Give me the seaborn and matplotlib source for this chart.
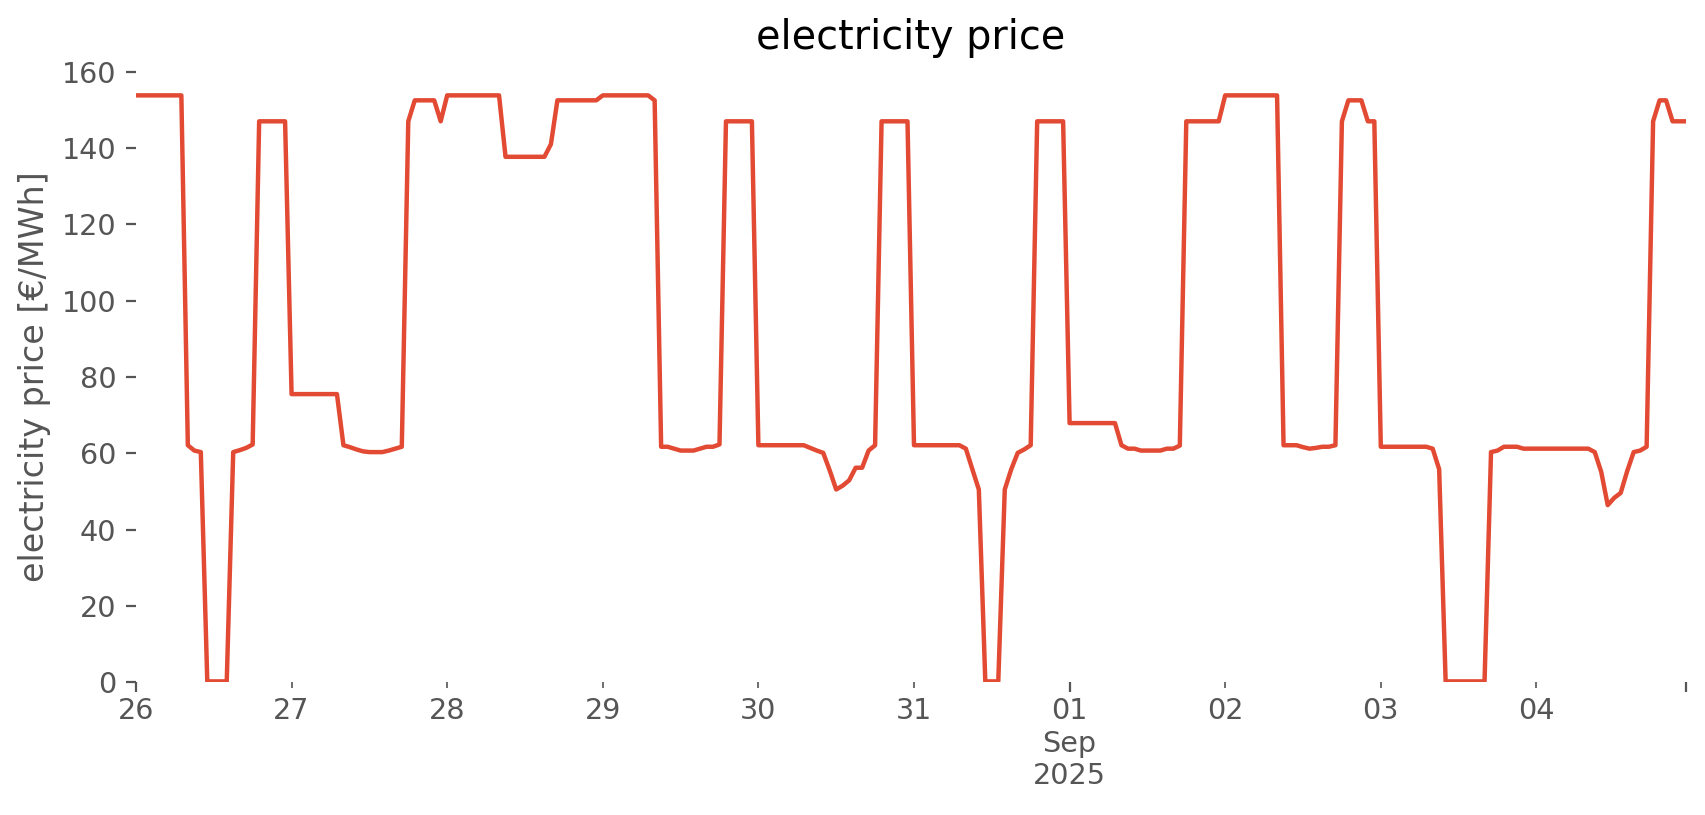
import numpy as np
import pandas as pd
import seaborn as sns
import matplotlib.pyplot as plt
import matplotlib.dates as mdates

# hourly prices in EUR/MWh, one list per day (26 Aug - 04 Sep 2025)
aug26 = [153.8, 153.8, 153.8, 153.8, 153.8, 153.8, 153.8, 153.8, 62.1, 60.7, 60.3, 0.2,
         0.2, 0.2, 0.2, 60.3, 60.8, 61.4, 62.3, 147.0, 147.0, 147.0, 147.0, 147.0]
aug27 = [75.5, 75.5, 75.5, 75.5, 75.5, 75.5, 75.5, 75.5, 62.1, 61.6, 61.0, 60.5,
         60.3, 60.3, 60.3, 60.7, 61.2, 61.7, 147.0, 152.5, 152.5, 152.5, 152.5, 147.0]
aug28 = [153.8, 153.8, 153.8, 153.8, 153.8, 153.8, 153.8, 153.8, 153.8, 137.7, 137.7, 137.7,
         137.7, 137.7, 137.7, 137.7, 141.0, 152.5, 152.5, 152.5, 152.5, 152.5, 152.5, 152.5]
aug29 = [153.8, 153.8, 153.8, 153.8, 153.8, 153.8, 153.8, 153.8, 152.5, 61.7, 61.7, 61.2,
         60.7, 60.7, 60.7, 61.2, 61.7, 61.7, 62.3, 147.0, 147.0, 147.0, 147.0, 147.0]
aug30 = [62.1, 62.1, 62.1, 62.1, 62.1, 62.1, 62.1, 62.1, 61.4, 60.7, 60.1, 55.5,
         50.5, 51.5, 52.9, 56.2, 56.2, 60.7, 62.1, 147.0, 147.0, 147.0, 147.0, 147.0]
aug31 = [62.1, 62.1, 62.1, 62.1, 62.1, 62.1, 62.1, 62.1, 61.2, 55.8, 50.5, 0.2,
         0.2, 0.2, 50.5, 55.8, 60.1, 61.0, 62.1, 147.0, 147.0, 147.0, 147.0, 147.0]
sep01 = [67.9, 67.9, 67.9, 67.9, 67.9, 67.9, 67.9, 67.9, 62.1, 61.2, 61.2, 60.7,
         60.7, 60.7, 60.7, 61.2, 61.2, 62.0, 147.0, 147.0, 147.0, 147.0, 147.0, 147.0]
sep02 = [153.8, 153.8, 153.8, 153.8, 153.8, 153.8, 153.8, 153.8, 153.8, 62.1, 62.1, 62.1,
         61.6, 61.2, 61.4, 61.7, 61.7, 62.1, 147.0, 152.5, 152.5, 152.5, 147.0, 147.0]
sep03 = [61.7, 61.7, 61.7, 61.7, 61.7, 61.7, 61.7, 61.7, 61.2, 55.8, 0.2, 0.2,
         0.2, 0.2, 0.2, 0.2, 0.2, 60.3, 60.7, 61.7, 61.7, 61.7, 61.2, 61.2]
sep04 = [61.2, 61.2, 61.2, 61.2, 61.2, 61.2, 61.2, 61.2, 61.2, 60.3, 55.1, 46.4,
         48.3, 49.6, 55.3, 60.3, 60.7, 61.7, 147.0, 152.5, 152.5, 147.0, 147.0, 147.0]

days = [aug26, aug27, aug28, aug29, aug30, aug31, sep01, sep02, sep03, sep04]
prices = [v for d in days for v in d]
times = pd.date_range("2025-08-26 00:00", periods=len(prices), freq="h")

df = pd.DataFrame({"time": times, "price": prices})

sns.set_theme(style="white", rc={
    "axes.edgecolor": "white",
    "xtick.color": "#555555",
    "ytick.color": "#555555",
    "axes.labelcolor": "#555555",
    "xtick.bottom": True,
    "ytick.left": True,
})
plt.rcParams["font.family"] = ["DejaVu Sans"]

fig, ax = plt.subplots(figsize=(8.53, 4.075), dpi=200)
fig.subplots_adjust(left=0.0797, right=0.988, bottom=0.163, top=0.912)

sns.lineplot(data=df, x="time", y="price", color="#E24A33", linewidth=1.6, ax=ax)

for s in ax.spines.values():
    s.set_visible(False)

ax.set_xlim(times[0], times[-1])
ax.set_ylim(0, 160)
ax.set_yticks(np.arange(0, 161, 20))

# pandas-like date ticks: long ticks at start / month start / end, short ticks per day
major_pos = [times[0], pd.Timestamp("2025-09-01"), times[-1]]
major_lab = ["26", "01\nSep\n2025", ""]
minor_days = pd.date_range("2025-08-27", "2025-09-04", freq="D")
minor_days = [d for d in minor_days if d != pd.Timestamp("2025-09-01")]
ax.set_xticks([mdates.date2num(p) for p in major_pos])
ax.set_xticklabels(major_lab)
ax.set_xticks([mdates.date2num(p) for p in minor_days], minor=True)
ax.set_xticklabels([d.strftime("%d") for d in minor_days], minor=True)

ax.tick_params(axis="x", which="major", length=3.5, width=0.8, labelsize=10.3, pad=2)
ax.tick_params(axis="x", which="minor", length=2, width=0.6, labelsize=10.3, pad=3.5,
               colors="#555555")
ax.tick_params(axis="y", length=3.5, width=0.8, labelsize=10.3)

ax.set_xlabel("")
ax.set_ylabel("electricity price [€/MWh]", fontsize=12.0)
ax.set_title("electricity price", fontsize=14.3, color="black", pad=8)

fig.savefig("out.png", dpi=200)
